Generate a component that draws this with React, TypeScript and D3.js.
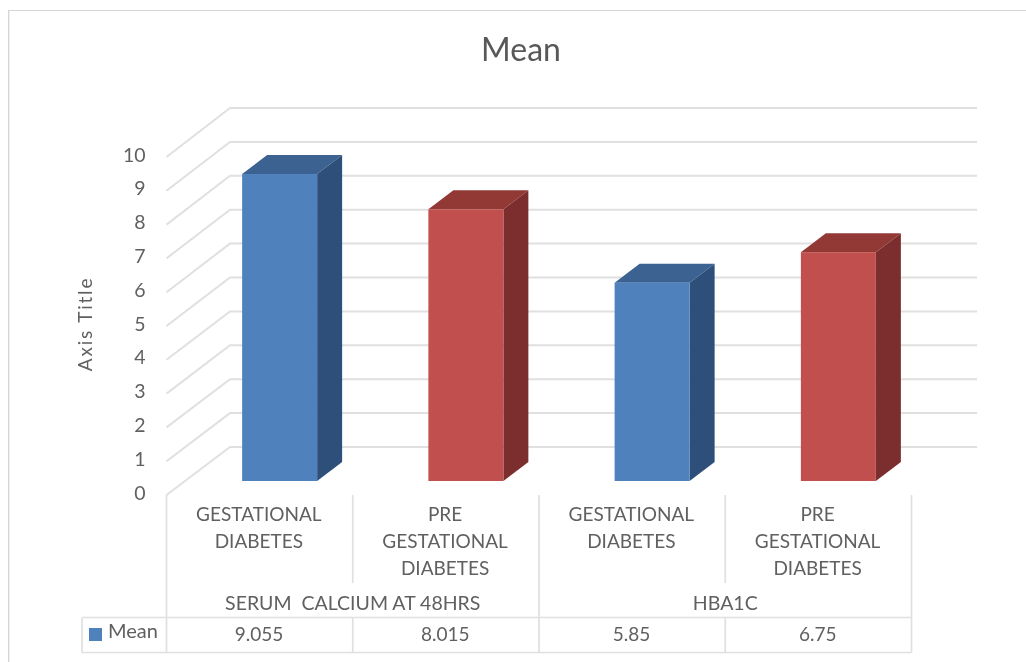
import React from "react";
import * as d3 from "d3";

const categories = ["GESTATIONAL DIABETES", "PRE GESTATIONAL DIABETES", "GESTATIONAL DIABETES", "PRE GESTATIONAL DIABETES"];
const categoryLines = [["GESTATIONAL", "DIABETES"], ["PRE", "GESTATIONAL", "DIABETES"], ["GESTATIONAL", "DIABETES"], ["PRE", "GESTATIONAL", "DIABETES"]];
const groups = ["SERUM  CALCIUM AT 48HRS", "HBA1C"];
const values = [9.055, 8.015, 5.85, 6.75];
const valueLabels = ["9.055", "8.015", "5.85", "6.75"];
const ticks = [0, 1, 2, 3, 4, 5, 6, 7, 8, 9, 10];
const faces = [
  { front: "#4f81bd", top: "#3a6291", side: "#2e5079" },
  { front: "#c0504d", top: "#923936", side: "#7b2f2d" },
];

const GRID = "#e0e0e0";
const TEXT = "#606060";
const FONT = "Lato, 'Open Sans', sans-serif";

export default function App() {
  const yFront = d3.scaleLinear().domain([0, 10]).range([495, 157]);
  const yBack = d3.scaleLinear().domain([0, 10]).range([447, 108]);
  const yBar = d3.scaleLinear().domain([0, 10]).range([481, 142]);
  const x = d3.scaleBand<number>().domain(d3.range(4)).range([166.5, 911.5]).paddingInner(0).paddingOuter(0);
  const barW = 75;
  const barShift = 20;
  const depthX = 25;
  const depthY = 19;
  const xBackEnd = 977;
  const xBackStart = 230;
  const band = x.bandwidth();
  const line = d3.line();

  return (
    <svg width={1026} height={662} style={{ position: "absolute", left: 0, top: 0 }} fontFamily={FONT}>
      <defs>
        <filter id="soft" x="0" y="0" width="100%" height="100%">
          <feGaussianBlur stdDeviation="0.5" />
        </filter>
      </defs>
      <rect width={1026} height={662} fill="#ffffff" />
      <g filter="url(#soft)">
        <path d="M8.5,662 V10 H1026" fill="none" stroke="#d6d6d6" strokeWidth={1.8} />
        <text x={521} y={61} textAnchor="middle" fontSize={32} fill="#595959">Mean</text>

        {ticks.map((t) => (
          <path
            key={t}
            d={line([[x(0)!, yFront(t)], [xBackStart, yBack(t)], [xBackEnd, yBack(t)]])!}
            fill="none"
            stroke={GRID}
            strokeWidth={2}
          />
        ))}

        {ticks.map((t) => (
          <text key={t} x={145.5} y={yFront(t) + 4.5} textAnchor="end" fontSize={19.5} fill={TEXT}>{t}</text>
        ))}

        <text transform="translate(92,324) rotate(-90)" textAnchor="middle" fontSize={19} letterSpacing={1.8} fill={TEXT}>Axis Title</text>

        {values.map((v, i) => {
          const c = faces[i % 2];
          const left = x(i)! + (band - barW) / 2 + barShift;
          const right = left + barW;
          const top = yBar(v);
          const bottom = yBar(0);
          return (
            <g key={categories[i] + i}>
              <path d={line([[left, top], [left + depthX, top - depthY], [right + depthX, top - depthY], [right, top]])! + "Z"} fill={c.top} />
              <path d={line([[right, top], [right + depthX, top - depthY], [right + depthX, bottom - depthY], [right, bottom]])! + "Z"} fill={c.side} />
              <rect x={left} y={top} width={barW} height={bottom - top} fill={c.front} />
            </g>
          );
        })}

        <g stroke={GRID} strokeWidth={1.7} fill="none">
          <path d="M166.5,495 V652.5" />
          <path d={`M${x(1)},495 V583 M${x(1)},617 V652.5`} />
          <path d={`M${x(2)},495 V652.5`} />
          <path d={`M${x(3)},495 V583 M${x(3)},617 V652.5`} />
          <path d={`M${x(3)! + band},495 V652.5`} />
          <path d={`M82,617.5 H${x(3)! + band} M82,652.5 H${x(3)! + band} M82,617.5 V652.5`} />
        </g>

        {categoryLines.map((lines, i) =>
          lines.map((l, j) => (
            <text key={i + "-" + j} x={x(i)! + band / 2 - 0.8} y={521 + j * 27} textAnchor="middle" fontSize={19} fill={TEXT}>{l}</text>
          ))
        )}

        {groups.map((g, i) => (
          <text key={g} x={x(i * 2)! + band} y={610} textAnchor="middle" fontSize={19.5} fill={TEXT} style={{ whiteSpace: "pre" }}>{g}</text>
        ))}

        <rect x={89} y={628} width={13} height={13} fill={faces[0].front} />
        <text x={108} y={638} fontSize={20} fill={TEXT}>Mean</text>

        {valueLabels.map((l, i) => (
          <text key={i} x={x(i)! + band / 2 - 0.5} y={641} textAnchor="middle" fontSize={19} fill={TEXT}>{l}</text>
        ))}
      </g>
    </svg>
  );
}
